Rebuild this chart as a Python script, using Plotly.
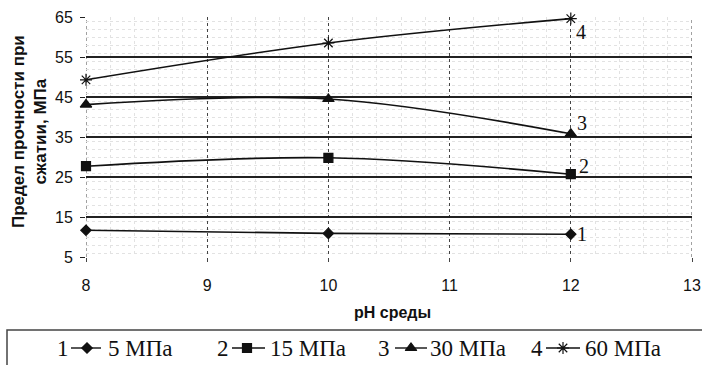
import plotly.graph_objects as go

# --- data -------------------------------------------------------------
ph = [8, 10, 12]
s1 = [11.7, 10.9, 10.7]   # 5 MPa
s2 = [27.7, 29.8, 25.7]   # 15 MPa
s3 = [43.1, 44.5, 35.8]   # 30 MPa
s4 = [49.3, 58.5, 64.6]   # 60 MPa
series_values = [s1, s2, s3, s4]
curve_numbers = ["1", "2", "3", "4"]
legend_names = ["5 МПа", "15 МПа", "30 МПа", "60 МПа"]
y_ticks = [5, 15, 25, 35, 45, 55, 65]
x_ticks = [8, 9, 10, 11, 12, 13]

# --- styling ----------------------------------------------------------
W, H = 702, 365
PL, PR, PT, PB = 86, 692, 17, 257          # plot box in pixels
SANS = "Liberation Sans, Arial, sans-serif"
SERIF = "Liberation Serif, Times New Roman, serif"
symbols = ["diamond", "square", "triangle-up", "asterisk-open"]
msizes = [8, 9, 10, 10]
label_shift = [(11, 0), (13, 8), (11, 11), (10, -13)]
# legend layout: number centre, line start, line end, marker x, text start
legend_slots = [
    (63, 71, 101, 87, 106),
    (223, 232, 265, 247, 268),
    (384, 395, 427, 411, 428),
    (537, 546, 580, 563, 583),
]
LEG_Y = 348

fig = go.Figure()

for vals, sym, ms in zip(series_values, symbols, msizes):
    fig.add_trace(go.Scatter(
        x=ph, y=vals, mode="lines+markers",
        line=dict(color="#111", width=1.6, shape="spline", smoothing=1),
        marker=dict(symbol=sym, size=ms, color="#111",
                    line=dict(color="#111", width=1.2)),
        showlegend=False, cliponaxis=False,
    ))

# curve numbers next to the last point
for vals, num, (dx, dy) in zip(series_values, curve_numbers, label_shift):
    fig.add_annotation(x=ph[-1], y=vals[-1], xref="x", yref="y", text=num,
                       showarrow=False, xshift=dx, yshift=dy,
                       font=dict(family=SERIF, size=20, color="#111"))

# dotted frame lines at the left and right ends of the pH range
for xe in (x_ticks[0], x_ticks[-1]):
    fig.add_shape(type="line", xref="x", yref="y", x0=xe, x1=xe,
                  y0=y_ticks[0], y1=y_ticks[-1],
                  line=dict(color="#444", width=1, dash="dot"), layer="below")

# pixel-space overlay used for the legend strip and free text
for (cx, x0, x1, mx, tx), sym, ms, num, name in zip(
        legend_slots, symbols, msizes, curve_numbers, legend_names):
    fig.add_trace(go.Scatter(
        x=[x0, x1], y=[LEG_Y, LEG_Y], mode="lines", xaxis="x2", yaxis="y2",
        line=dict(color="#111", width=1.4), showlegend=False, hoverinfo="skip"))
    fig.add_trace(go.Scatter(
        x=[mx], y=[LEG_Y], mode="markers", xaxis="x2", yaxis="y2",
        marker=dict(symbol=sym, size=ms, color="#111",
                    line=dict(color="#111", width=1.2)),
        showlegend=False, hoverinfo="skip"))
    fig.add_annotation(x=cx, y=LEG_Y, xref="x2", yref="y2", text=num,
                       showarrow=False, xanchor="center", yanchor="middle",
                       font=dict(family=SERIF, size=23, color="#111"))
    fig.add_annotation(x=tx, y=LEG_Y, xref="x2", yref="y2", text=name,
                       showarrow=False, xanchor="left", yanchor="middle",
                       font=dict(family=SERIF, size=23, color="#111"))

# legend frame
fig.add_shape(type="rect", xref="x2", yref="y2", x0=7, x1=W + 5, y0=330, y1=H + 5,
              line=dict(color="#444", width=1.5), fillcolor="rgba(0,0,0,0)")

# axis titles
fig.add_annotation(x=29, y=132, xref="x2", yref="y2",
                   text="<b>Предел прочности при<br>сжатии, МПа</b>",
                   textangle=-90, showarrow=False,
                   font=dict(family=SANS, size=17, color="#111"))
fig.add_annotation(x=(PL + PR) / 2 + 3, y=312, xref="x2", yref="y2",
                   text="<b>pH среды</b>", showarrow=False,
                   font=dict(family=SANS, size=16, color="#111"))

fig.update_layout(
    width=W, height=H, autosize=False,
    margin=dict(l=0, r=0, t=0, b=0),
    paper_bgcolor="white", plot_bgcolor="rgba(0,0,0,0)",
    showlegend=False,
    xaxis=dict(
        domain=[PL / W, PR / W], range=[8, 13], tickvals=x_ticks,
        showgrid=True, gridcolor="#444", griddash="dot", gridwidth=1,
        zeroline=False, showline=False, ticks="outside", ticklen=4,
        tickcolor="#444", ticklabelstandoff=10,
        tickfont=dict(family=SANS, size=16, color="#111"),
        minor=dict(dtick=0.2, showgrid=True, gridcolor="#e2e2e2",
                   griddash="dot", gridwidth=1),
        automargin=False, fixedrange=True,
    ),
    yaxis=dict(
        domain=[1 - PB / H, 1 - PT / H], range=[5, 65], tickvals=y_ticks,
        showgrid=True, gridcolor="#222", gridwidth=2,
        zeroline=False, showline=False, ticks="outside", ticklen=5,
        tickcolor="#222", ticklabelstandoff=4,
        tickfont=dict(family=SANS, size=16, color="#111"),
        minor=dict(dtick=2, showgrid=True, gridcolor="#e2e2e2",
                   griddash="dot", gridwidth=1),
        automargin=False, fixedrange=True,
    ),
    xaxis2=dict(domain=[0, 1], range=[0, W], anchor="y2", visible=False,
                fixedrange=True),
    yaxis2=dict(domain=[0, 1], range=[H, 0], anchor="x2", visible=False,
                fixedrange=True),
)

fig.write_html("out.html")
